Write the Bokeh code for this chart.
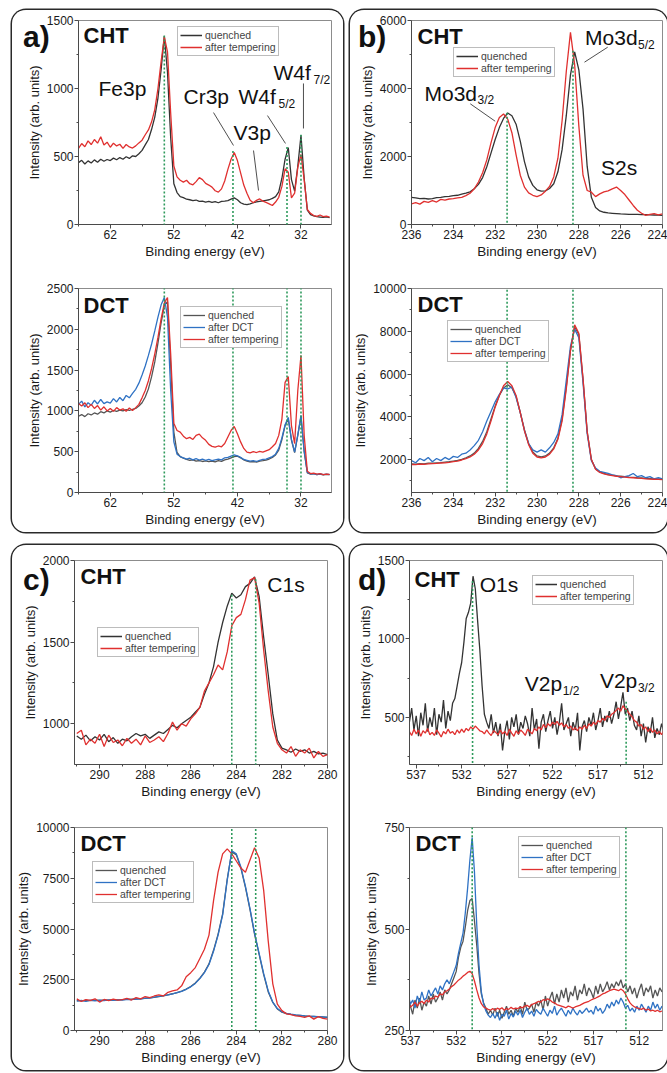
from bokeh.plotting import figure
from bokeh.models import Range1d, FixedTicker, Legend, LegendItem, Label, Arrow, Div
from bokeh.layouts import column, row
from bokeh.embed import file_html
from bokeh.resources import INLINE

FONT = "Liberation Sans"
Q1 = "#333333"
Q2 = "#555555"
RED = "#e0302f"
BLUE = "#2f72c4"
GREEN = "#2e9a5c"

# ---------------- panel a: Fe3p / Cr3p / V3p / W4f ----------------
a_energy = [
 67.0, 66.5, 66.0, 65.5, 65.0, 64.5, 64.0, 63.5, 63.0, 62.5,
 62.0, 61.5, 61.0, 60.5, 60.0, 59.5, 59.0, 58.5, 58.0, 57.5,
 57.0, 56.5, 56.0, 55.5, 55.0, 54.5, 54.0, 53.5, 53.0, 52.5,
 52.0, 51.5, 51.0, 50.5, 50.0, 49.5, 49.0, 48.5, 48.0, 47.5,
 47.0, 46.5, 46.0, 45.5, 45.0, 44.5, 44.0, 43.5, 43.0, 42.5,
 42.0, 41.5, 41.0, 40.5, 40.0, 39.5, 39.0, 38.5, 38.0, 37.5,
 37.0, 36.5, 36.0, 35.5, 35.0, 34.5, 34.0, 33.5, 33.0, 32.5,
 32.0, 31.5, 31.0, 30.5, 30.0, 29.5, 29.0, 28.5, 28.0, 27.5]
a_cht_quenched = [
 455, 472, 445, 468, 452, 475, 458, 480, 465, 478,
 470, 488, 476, 492, 480, 498, 486, 505, 500, 520,
 545, 585, 625, 700, 790, 930, 1140, 1385, 1120, 640,
 300, 235, 205, 198, 186, 182, 176, 180, 170, 172,
 165, 170, 162, 168, 160, 170, 172, 175, 186, 196,
 182, 160, 150, 146, 152, 160, 166, 170, 174, 178,
 182, 192, 205, 240, 340, 480, 565, 330, 245, 430,
 655, 340, 105, 72, 64, 58, 55, 52, 56, 50]
a_cht_tempered = [
 560, 595, 572, 615, 588, 625, 598, 645, 585, 605,
 568, 598, 578, 590, 560, 588, 570, 562, 578, 600,
 620, 660, 695, 755, 845, 1000, 1200, 1380, 1270, 820,
 430, 350, 325, 312, 325, 300, 292, 315, 345, 330,
 302, 290, 275, 248, 238, 262, 320, 405, 480, 530,
 470, 380, 290, 230, 178, 160, 178, 188, 172, 162,
 152, 140, 165, 200, 280, 410, 385, 195, 230, 420,
 515, 330, 110, 82, 66, 60, 70, 58, 62, 55]
a_dct_quenched = [
 935, 955, 930, 965, 950, 975, 960, 990, 975, 1000,
 985, 1005, 995, 1010, 1000, 1015, 1005, 1020, 1030, 1060,
 1100, 1170, 1270, 1420, 1600, 1830, 2080, 2290, 2340, 1560,
 740, 490, 440, 420, 405, 395, 400, 385, 392, 380,
 388, 378, 385, 375, 390, 382, 400, 410, 425, 440,
 445, 425, 400, 385, 375, 380, 372, 385, 390, 398,
 410, 430, 460, 520, 650, 820, 900, 640, 490, 700,
 930, 500, 240, 225, 230, 218, 226, 215, 222, 218]
a_dct_dct = [
 1080, 1120, 1050, 1100, 1070, 1130, 1085, 1140, 1090, 1110,
 1095, 1150, 1110, 1165, 1125, 1190, 1160, 1215, 1265, 1340,
 1440, 1550, 1680, 1820, 1980, 2150, 2300, 2390, 2150, 1250,
 620, 470, 440, 425, 410, 420, 400, 415, 398, 410,
 395, 405, 390, 400, 410, 400, 425, 430, 445, 460,
 450, 430, 405, 395, 385, 390, 380, 395, 405, 410,
 425, 440, 470, 540, 670, 830, 920, 650, 495, 710,
 945, 510, 245, 228, 232, 220, 228, 218, 224, 220]
a_dct_tempered = [
 1090, 1060, 1100, 1040, 1080, 1030, 1065, 1010, 1050, 1000,
 1030, 995, 1040, 1010, 1025, 995, 1035, 1005, 1040, 1080,
 1160, 1250, 1370, 1520, 1700, 1900, 2130, 2320, 2390, 1700,
 850, 760, 740, 690, 660, 675, 650, 700, 715, 670,
 640, 590, 565, 555, 570, 560, 600, 680, 760, 810,
 720, 620, 540, 495, 485, 500, 490, 505, 495, 510,
 525, 560, 600, 700, 900, 1350, 1420, 820, 600, 1250,
 1680, 700, 260, 232, 238, 224, 230, 220, 226, 222]
a_peaks = [53.5, 42.7, 34.2, 32.0]
a_peak_tops = [1390, 540, 570, 660]

# ---------------- panel b: Mo3d ----------------
b_energy = [
 236.0, 235.8, 235.6, 235.4, 235.2, 235.0, 234.8, 234.6, 234.4, 234.2,
 234.0, 233.8, 233.6, 233.4, 233.2, 233.0, 232.8, 232.6, 232.4, 232.2,
 232.0, 231.8, 231.6, 231.4, 231.2, 231.0, 230.8, 230.6, 230.4, 230.2,
 230.0, 229.8, 229.6, 229.4, 229.2, 229.0, 228.8, 228.6, 228.4, 228.2,
 228.0, 227.8, 227.6, 227.4, 227.2, 227.0, 226.8, 226.6, 226.4, 226.2,
 226.0, 225.8, 225.6, 225.4, 225.2, 225.0, 224.8, 224.6, 224.4, 224.2,
 224.0]
b_cht_quenched = [
 800, 780, 760, 770, 750, 760, 790, 800, 820, 830,
 850, 860, 890, 920, 960, 1050, 1180, 1380, 1700, 2100,
 2500, 2850, 3120, 3280, 3200, 2950, 2450, 1850, 1400, 1150,
 1020, 980, 990, 1060, 1200, 1550, 2200, 3200, 4400, 5080,
 4550, 3400, 1700, 800, 500, 400, 360, 340, 330, 320,
 310, 305, 300, 300, 295, 290, 290, 285, 280, 275,
 270]
b_cht_tempered = [
 610, 640, 600, 680, 650, 700, 660, 740, 720, 750,
 760, 780, 800, 850, 920, 1050, 1250, 1520, 1900, 2400,
 2850, 3150, 3250, 3100, 2700, 2050, 1450, 1100, 930, 860,
 820, 870, 980, 1120, 1400, 1950, 3050, 4500, 5650, 4700,
 2900, 1450, 1000, 950, 820, 900, 960, 990, 1050, 1100,
 1000, 880, 720, 560, 420, 330, 270, 300, 320, 280,
 310]
b_dct_quenched = [
 1800, 1790, 1810, 1800, 1830, 1830, 1850, 1860, 1880, 1900,
 1930, 1960, 2010, 2080, 2170, 2300, 2520, 2850, 3300, 3900,
 4500, 5000, 5350, 5500, 5350, 4950, 4200, 3400, 2750, 2350,
 2170, 2130, 2170, 2300, 2550, 3000, 3900, 5400, 7100, 8200,
 7850, 5750, 3300, 2000, 1560, 1420, 1350, 1300, 1270, 1240,
 1220, 1200, 1180, 1170, 1150, 1140, 1120, 1110, 1100, 1090,
 1080]
b_dct_dct = [
 1950, 1850, 2050, 1950, 2100, 1900, 2050, 1950, 2100, 2000,
 2150, 2100, 2250, 2300, 2450, 2650, 2900, 3300, 3800, 4250,
 4700, 5050, 5350, 5300, 5400, 4900, 4200, 3350, 2750, 2450,
 2350, 2450, 2350, 2550, 2800, 3200, 4100, 5700, 7300, 8100,
 7700, 5600, 3200, 1950, 1600, 1450, 1400, 1350, 1280, 1250,
 1150, 1200, 1250, 1350, 1200, 1250, 1150, 1200, 1100, 1150,
 1100]
b_dct_tempered = [
 1770, 1760, 1790, 1780, 1800, 1810, 1820, 1840, 1850, 1870,
 1900, 1930, 1980, 2040, 2120, 2250, 2450, 2750, 3200, 3800,
 4450, 5000, 5450, 5650, 5450, 5000, 4200, 3350, 2700, 2300,
 2120, 2080, 2120, 2250, 2500, 2950, 3800, 5300, 7100, 8300,
 7900, 5800, 3300, 2000, 1550, 1400, 1330, 1280, 1250, 1220,
 1200, 1180, 1160, 1150, 1130, 1120, 1100, 1090, 1080, 1070,
 1060]
b_peaks = [231.43, 228.28]
b_peak_tops = [3290, 5110]

# ---------------- panel c: C1s ----------------
c_energy = [
 291.0, 290.8, 290.6, 290.4, 290.2, 290.0, 289.8, 289.6, 289.4, 289.2,
 289.0, 288.8, 288.6, 288.4, 288.2, 288.0, 287.8, 287.6, 287.4, 287.2,
 287.0, 286.8, 286.6, 286.4, 286.2, 286.0, 285.8, 285.6, 285.4, 285.2,
 285.0, 284.8, 284.6, 284.4, 284.2, 284.0, 283.8, 283.6, 283.4, 283.2,
 283.0, 282.8, 282.6, 282.4, 282.2, 282.0, 281.8, 281.6, 281.4, 281.2,
 281.0, 280.8, 280.6, 280.4, 280.2, 280.0]
c_cht_quenched = [
 925, 905, 930, 895, 920, 900, 935, 890, 915, 880,
 905, 895, 920, 940, 925, 935, 910, 930, 950, 940,
 965, 990, 975, 1000, 1020, 1040, 1070, 1100, 1180, 1250,
 1350, 1500, 1620, 1720, 1800, 1770, 1790, 1840, 1860, 1900,
 1780, 1530, 1300, 1060, 900, 850, 840, 825, 845, 830,
 840, 820, 830, 815, 820, 810]
c_cht_tempered = [
 940, 960, 870, 905, 880, 935, 860, 930, 885, 900,
 865, 910, 880, 905, 870, 925, 885, 900, 920, 890,
 940, 1010, 960, 1000, 985, 1030, 1060, 1100, 1200, 1250,
 1300, 1360, 1330, 1440, 1600, 1650, 1670, 1760, 1880, 1895,
 1740, 1450, 1200, 980, 880, 840, 820, 860, 800, 840,
 820, 850, 790, 830, 800, 810]
c_dct_quenched = [
 1470, 1460, 1480, 1470, 1490, 1480, 1500, 1490, 1510, 1500,
 1520, 1530, 1540, 1550, 1570, 1580, 1610, 1630, 1670, 1710,
 1760, 1810, 1870, 1940, 2040, 2170, 2340, 2580, 2880, 3280,
 3950, 4750, 5750, 7450, 8800, 8650, 8000, 7050, 5950, 4750,
 3750, 2750, 1900, 1380, 1060, 900, 830, 790, 760, 740,
 715, 700, 690, 675, 665, 650]
c_dct_dct = [
 1450, 1480, 1430, 1500, 1460, 1490, 1470, 1510, 1480, 1520,
 1500, 1540, 1520, 1560, 1550, 1590, 1600, 1640, 1680, 1720,
 1750, 1800, 1860, 1930, 2030, 2150, 2320, 2560, 2850, 3250,
 3900, 4700, 5700, 7400, 8850, 8700, 8050, 7100, 6000, 4800,
 3800, 2800, 1950, 1400, 1080, 920, 840, 800, 770, 750,
 720, 700, 690, 680, 665, 655]
c_dct_tempered = [
 1560, 1430, 1520, 1480, 1560, 1400, 1530, 1470, 1550, 1500,
 1520, 1580, 1500, 1620, 1560, 1670, 1620, 1700, 1760, 1700,
 1880, 1950, 2000, 2200, 2650, 2850, 3100, 3550, 4000, 4700,
 6400, 7800, 8700, 8950, 8700, 8350, 8000, 7800, 8400, 9000,
 8500, 6900, 4400, 2300, 1300, 980, 820, 780, 720, 700,
 650, 720, 560, 680, 600, 560]
c_peaks = [284.2, 283.15]
c_peak_tops = [1790, 1885]

# ---------------- panel d: O1s / V2p ----------------
d_energy = [
 537.75, 537.5, 537.25, 537.0, 536.75, 536.5, 536.25, 536.0, 535.75, 535.5,
 535.25, 535.0, 534.75, 534.5, 534.25, 534.0, 533.75, 533.5, 533.25, 533.0,
 532.75, 532.5, 532.25, 532.0, 531.75, 531.5, 531.25, 531.0, 530.75, 530.5,
 530.25, 530.0, 529.75, 529.5, 529.25, 529.0, 528.75, 528.5, 528.25, 528.0,
 527.75, 527.5, 527.25, 527.0, 526.75, 526.5, 526.25, 526.0, 525.75, 525.5,
 525.25, 525.0, 524.75, 524.5, 524.25, 524.0, 523.75, 523.5, 523.25, 523.0,
 522.75, 522.5, 522.25, 522.0, 521.75, 521.5, 521.25, 521.0, 520.75, 520.5,
 520.25, 520.0, 519.75, 519.5, 519.25, 519.0, 518.75, 518.5, 518.25, 518.0,
 517.75, 517.5, 517.25, 517.0, 516.75, 516.5, 516.25, 516.0, 515.75, 515.5,
 515.25, 515.0, 514.75, 514.5, 514.25, 514.0, 513.75, 513.5, 513.25, 513.0,
 512.75, 512.5, 512.25, 512.0, 511.75, 511.5, 511.25, 511.0, 510.75, 510.5,
 510.25, 510.0, 509.75, 509.5]
d_cht_quenched = [
 470, 560, 420, 510, 380, 530, 450, 590, 410, 500,
 440, 560, 390, 520, 470, 610, 430, 540, 480, 590,
 620, 700, 780, 850, 980, 1130, 1170, 1230, 1400, 1320,
 1120, 930, 700, 520, 470, 430, 520, 400, 470, 380,
 460, 290, 410, 480, 360, 500, 440, 520, 390, 470,
 430, 510, 460, 380, 560, 420, 490, 300, 470, 520,
 410, 480, 540, 430, 500, 390, 470, 590, 420, 460,
 500, 380, 470, 420, 530, 290, 440, 480, 410, 500,
 450, 530, 420, 480, 560, 440, 510, 470, 540, 460,
 520, 600, 490, 570, 660, 520, 560, 480, 540, 450,
 420, 510, 380, 460, 340, 440, 400, 500, 370, 430,
 390, 460, 410, 440]
d_cht_tempered = [
 410, 385, 425, 395, 420, 380, 415, 400, 430, 390,
 405, 385, 420, 400, 375, 410, 395, 425, 400, 410,
 390, 420, 400, 425, 405, 430, 415, 440, 425, 445,
 430, 415, 410, 395, 420, 400, 385, 415, 405, 390,
 420, 395, 410, 385, 425, 400, 380, 415, 395, 420,
 405, 385, 425, 410, 395, 430, 415, 440, 420, 455,
 435, 460, 445, 470, 455, 475, 450, 465, 440, 455,
 430, 445, 420, 435, 415, 440, 425, 450, 430, 460,
 445, 470, 455, 480, 470, 495, 480, 510, 500, 520,
 530, 545, 560, 540, 575, 555, 540, 520, 505, 480,
 470, 445, 455, 425, 440, 410, 430, 405, 420, 395,
 410, 390, 420, 400]
d_dct_quenched = [
 320, 300, 335, 310, 290, 325, 305, 330, 300, 320,
 310, 335, 315, 340, 320, 330, 345, 325, 350, 340,
 350, 365, 380, 395, 430, 455, 470, 505, 545, 570,
 575, 520, 460, 390, 340, 318, 305, 290, 300, 288,
 305, 285, 300, 280, 295, 310, 290, 300, 285, 305,
 295, 310, 290, 320, 300, 305, 315, 295, 320, 310,
 325, 300, 335, 310, 330, 345, 315, 340, 320, 350,
 330, 355, 320, 345, 335, 360, 325, 350, 340, 365,
 335, 355, 345, 330, 360, 340, 365, 345, 355, 370,
 350, 365, 355, 370, 360, 375, 355, 365, 345, 360,
 340, 355, 330, 350, 365, 335, 355, 345, 360, 330,
 350, 335, 355, 345]
d_dct_dct = [
 330, 310, 340, 315, 325, 305, 335, 320, 345, 325,
 330, 350, 335, 345, 355, 340, 360, 350, 365, 375,
 365, 380, 395, 410, 440, 465, 490, 540, 600, 670,
 725, 640, 510, 410, 345, 315, 298, 288, 282, 292,
 280, 295, 275, 290, 285, 300, 278, 292, 283, 298,
 288, 300, 282, 295, 305, 290, 298, 285, 302, 295,
 290, 305, 295, 285, 300, 292, 310, 288, 298, 305,
 295, 285, 300, 290, 305, 295, 288, 300, 292, 298,
 305, 295, 300, 290, 310, 298, 305, 292, 300, 315,
 305, 320, 310, 325, 315, 330, 320, 305, 312, 298,
 305, 295, 310, 300, 315, 305, 295, 310, 300, 320,
 305, 315, 300, 310]
d_dct_tempered = [
 315, 305, 318, 308, 312, 320, 310, 318, 322, 316,
 325, 320, 330, 328, 335, 332, 340, 338, 345, 348,
 352, 358, 362, 368, 374, 378, 384, 388, 393, 396,
 390, 372, 350, 330, 316, 308, 305, 302, 300, 304,
 300, 305, 302, 306, 300, 304, 302, 307, 303, 305,
 304, 308, 306, 310, 312, 308, 314, 316, 318, 322,
 320, 326, 324, 328, 325, 320, 318, 314, 312, 310,
 308, 306, 310, 308, 305, 308, 310, 312, 315, 318,
 320, 322, 325, 328, 330, 333, 336, 340, 342, 345,
 348, 350, 352, 350, 348, 352, 348, 340, 328, 318,
 312, 308, 306, 304, 302, 305, 300, 303, 298, 300,
 297, 300, 296, 298]
d_peaks_top = [530.8, 513.9]
d_peak_tops = [1370, 600]
d_peaks_bottom = [530.25, 513.45]


def make_panel(width, height, bl, br, bt, bb, xr, yr, xt, xmt, yt, ymt):
    p = figure(width=width, height=height,
               x_range=Range1d(xr[0], xr[1]), y_range=Range1d(yr[0], yr[1]),
               output_backend="svg", toolbar_location=None,
               min_border_left=bl, min_border_right=br,
               min_border_top=bt, min_border_bottom=bb)
    p.xgrid.visible = False
    p.ygrid.visible = False
    p.outline_line_color = "#8c8c8c"
    p.background_fill_color = "white"
    p.border_fill_color = "white"
    p.xaxis.ticker = FixedTicker(ticks=xt, minor_ticks=xmt)
    p.yaxis.ticker = FixedTicker(ticks=yt, minor_ticks=ymt)
    p.xaxis.axis_label = "Binding energy (eV)"
    p.yaxis.axis_label = "Intensity (arb. units)"
    for ax in [p.xaxis[0], p.yaxis[0]]:
        ax.axis_line_color = "#4a4a4a"
        ax.major_tick_line_color = "#4a4a4a"
        ax.minor_tick_line_color = "#4a4a4a"
        ax.major_tick_out = 4
        ax.major_tick_in = 0
        ax.minor_tick_out = 2
        ax.minor_tick_in = 0
        ax.major_label_text_font = FONT
        ax.major_label_text_font_size = "12px"
        ax.major_label_text_color = "#1a1a1a"
        ax.major_label_standoff = 1
        ax.axis_label_text_font = FONT
        ax.axis_label_text_font_style = "normal"
        ax.axis_label_text_color = "#1a1a1a"
        ax.axis_label_standoff = 2
    p.xaxis.axis_label_text_font_size = "13.5px"
    p.yaxis.axis_label_text_font_size = "13px"
    return p


def curve(p, x, y, color):
    n = min(len(x), len(y))
    return p.line(x[:n], y[:n], line_color=color, line_width=1.3)


def add_text(p, text, x, y, size, bold=False, screen=False, x_offset=0, y_offset=0):
    units = "screen" if screen else "data"
    p.add_layout(Label(x=x, y=y, x_units=units, y_units=units, text=text,
                       text_font=FONT, text_font_size=size,
                       text_font_style="bold" if bold else "normal",
                       text_baseline="middle", text_align="left", text_color="#111111",
                       x_offset=x_offset, y_offset=y_offset))


def add_legend(p, items, x, y):
    leg = Legend(items=[LegendItem(label=l, renderers=[r]) for l, r in items],
                 location=(x, y), label_text_font=FONT, label_text_font_size="10.5px",
                 label_height=12, glyph_height=12, glyph_width=22, label_standoff=3,
                 spacing=0, padding=2, margin=0, border_line_color="#7a7a7a",
                 border_line_width=1, background_fill_color="white", background_fill_alpha=1.0)
    p.add_layout(leg)


def vdots(p, xs, tops, bottom):
    for x, t in zip(xs, tops):
        p.add_layout(Arrow(end=None, x_start=x, y_start=t, x_end=x, y_end=bottom,
                           line_color=GREEN, line_width=1.6, line_dash="2 2"))


def leaders(p, segs):
    p.segment(x0=[s[0] for s in segs], y0=[s[1] for s in segs],
              x1=[s[2] for s in segs], y1=[s[3] for s in segs],
              line_color="#222222", line_width=0.8)


def letter_div(text, left, top, width):
    html = ('<span style="position:absolute; left:%dpx; top:%dpx; z-index:20; '
            'font-family:\'Liberation Sans\', Arial, sans-serif; font-size:30px; '
            'font-weight:bold; line-height:1; color:#111111; white-space:nowrap;">%s</span>'
            % (left, top, text))
    return Div(text=html, width=width, height=0, margin=(0, 0, 0, 0),
               styles={"position": "relative", "z-index": "20", "overflow": "visible"})


# ---------- a ----------
ax_t = [62, 52, 42, 32]
ax_m = [67, 57, 47, 37, 27]
a1 = make_panel(331, 262, 66, 12, 10, 48, (67, 27.2), (0, 1500), ax_t, ax_m,
                [0, 500, 1000, 1500], [250, 750, 1250])
r1 = curve(a1, a_energy, a_cht_quenched, Q1)
r2 = curve(a1, a_energy, a_cht_tempered, RED)
vdots(a1, a_peaks, a_peak_tops, -500)
add_legend(a1, [("quenched", r1), ("after tempering", r2)], 99, 168)
add_text(a1, "CHT", 5, 189, "22px", bold=True, screen=True)
add_text(a1, "Fe3p", 63.85, 1000, "21px")
add_text(a1, "Cr3p", 50.48, 941, "21px")
add_text(a1, "W4f", 41.83, 938, "21px")
add_text(a1, "5/2", 41.83, 938, "12px", x_offset=40, y_offset=-7)
add_text(a1, "V3p", 42.62, 676, "21px")
add_text(a1, "W4f", 36.33, 1114, "21px")
add_text(a1, "7/2", 36.33, 1114, "12px", x_offset=40, y_offset=-7)
leaders(a1, [(45.76, 823, 42.62, 581), (39.47, 544, 38.68, 250),
             (37.27, 801, 34.44, 596), (31.61, 1037, 31.61, 706)])

a2 = make_panel(331, 260, 66, 12, 16, 40, (67, 27.2), (0, 2500), ax_t, ax_m,
                [0, 500, 1000, 1500, 2000, 2500], [250, 750, 1250, 1750, 2250])
s1 = curve(a2, a_energy, a_dct_quenched, Q2)
s2 = curve(a2, a_energy, a_dct_dct, BLUE)
s3 = curve(a2, a_energy, a_dct_tempered, RED)
vdots(a2, a_peaks, [3200] * 4, 0)
add_legend(a2, [("quenched", s1), ("after DCT", s2), ("after tempering", s3)], 102, 144)
add_text(a2, "DCT", 5, 187.5, "22px", bold=True, screen=True)

# ---------- b ----------
bx_t = [236, 234, 232, 230, 228, 226, 224]
bx_m = [235, 233, 231, 229, 227, 225]
b1 = make_panel(317, 262, 59, 5, 10, 48, (236, 224), (0, 6000), bx_t, bx_m,
                [0, 2000, 4000, 6000], [1000, 3000, 5000])
r1 = curve(b1, b_energy, b_cht_quenched, Q1)
r2 = curve(b1, b_energy, b_cht_tempered, RED)
vdots(b1, b_peaks, b_peak_tops, -2500)
add_legend(b1, [("quenched", r1), ("after tempering", r2)], 42, 147)
add_text(b1, "CHT", 6, 188.5, "22px", bold=True, screen=True)
add_text(b1, "Mo3d", 235.38, 3867, "21px")
add_text(b1, "3/2", 235.38, 3867, "12px", x_offset=53, y_offset=-7)
add_text(b1, "Mo3d", 227.70, 5500, "21px")
add_text(b1, "5/2", 227.70, 5500, "12px", x_offset=53, y_offset=-7)
add_text(b1, "S2s", 226.94, 1662, "21px")
leaders(b1, [(233.19, 3550, 232.0, 3038), (226.62, 5215, 227.73, 4774)])

b2 = make_panel(317, 260, 59, 5, 16, 40, (236, 224), (460, 10000), bx_t, bx_m,
                [2000, 4000, 6000, 8000, 10000], [1000, 3000, 5000, 7000, 9000])
s1 = curve(b2, b_energy, b_dct_quenched, Q2)
s2 = curve(b2, b_energy, b_dct_dct, BLUE)
s3 = curve(b2, b_energy, b_dct_tempered, RED)
vdots(b2, b_peaks, [12000] * 2, 460)
add_legend(b2, [("quenched", s1), ("after DCT", s2), ("after tempering", s3)], 36, 130)
add_text(b2, "DCT", 6, 188.5, "22px", bold=True, screen=True)

# ---------- c ----------
cx_t = [290, 288, 286, 284, 282, 280]
cx_m = [291, 289, 287, 285, 283, 281]
c1 = make_panel(331, 266, 62, 16, 15, 47, (291.1, 280), (750, 2000), cx_t, cx_m,
                [1000, 1500, 2000], [1250, 1750])
r1 = curve(c1, c_energy, c_cht_quenched, Q1)
r2 = curve(c1, c_energy, c_cht_tempered, RED)
vdots(c1, c_peaks, c_peak_tops, 300)
add_legend(c1, [("quenched", r1), ("after tempering", r2)], 23, 107)
add_text(c1, "CHT", 6, 188, "22px", bold=True, screen=True)
add_text(c1, "C1s", 282.64, 1853, "21px")

c2 = make_panel(331, 259, 62, 16, 16, 40, (291.1, 280), (0, 10000), cx_t, cx_m,
                [0, 2500, 5000, 7500, 10000], [1250, 3750, 6250, 8750])
s1 = curve(c2, c_energy, c_dct_quenched, Q2)
s2 = curve(c2, c_energy, c_dct_dct, BLUE)
s3 = curve(c2, c_energy, c_dct_tempered, RED)
vdots(c2, c_peaks, [11500] * 2, 0)
add_legend(c2, [("quenched", s1), ("after DCT", s2), ("after tempering", s3)], 18, 127)
add_text(c2, "DCT", 6, 187.5, "22px", bold=True, screen=True)

# ---------- d ----------
dx_t = [537, 532, 527, 522, 517, 512]
dx_m = [534.5, 529.5, 524.5, 519.5, 514.5]
d1 = make_panel(317, 266, 59, 5, 15, 47, (537.74, 509.9), (200, 1500), dx_t, dx_m,
                [500, 1000, 1500], [250, 750, 1250])
r1 = curve(d1, d_energy, d_cht_quenched, Q1)
r2 = curve(d1, d_energy, d_cht_tempered, RED)
vdots(d1, d_peaks_top, d_peak_tops, -200)
add_legend(d1, [("quenched", r1), ("after tempering", r2)], 123, 159)
add_text(d1, "CHT", 5, 185.5, "22px", bold=True, screen=True)
add_text(d1, "O1s", 530.02, 1347, "21px")
add_text(d1, "V2p", 525.06, 716, "21px")
add_text(d1, "1/2", 525.06, 716, "12px", x_offset=38, y_offset=-7)
add_text(d1, "V2p", 516.79, 735, "21px")
add_text(d1, "3/2", 516.79, 735, "12px", x_offset=38, y_offset=-7)

d2 = make_panel(317, 259, 59, 5, 16, 40, (537.1, 509.45), (250, 750), dx_t, dx_m,
                [250, 500, 750], [375, 625])
s1 = curve(d2, d_energy, d_dct_quenched, Q2)
s2 = curve(d2, d_energy, d_dct_dct, BLUE)
s3 = curve(d2, d_energy, d_dct_tempered, RED)
vdots(d2, d_peaks_bottom, [800] * 2, 250)
add_legend(d2, [("quenched", s1), ("after DCT", s2), ("after tempering", s3)], 109, 152)
add_text(d2, "DCT", 6, 187.5, "22px", bold=True, screen=True)

box_style = {"border-radius": "14px", "box-shadow": "0 0 0 1.5px #2a2a2a",
             "overflow": "hidden", "background-color": "white"}
boxA = column(letter_div("a)", 11, 12, 331), a1, a2, spacing=0, styles=box_style)
boxB = column(letter_div("b)", 8, 12, 317), b1, b2, spacing=0, styles=box_style)
boxC = column(letter_div("c)", 11, 20, 331), c1, c2, spacing=0, styles=box_style)
boxD = column(letter_div("d)", 8, 20, 317), d1, d2, spacing=0, styles=box_style)

layout = column(row(boxA, boxB, spacing=7), row(boxC, boxD, spacing=7),
                spacing=13, margin=(10, 0, 0, 12))

open("out.html", "w").write(file_html(layout, INLINE))
